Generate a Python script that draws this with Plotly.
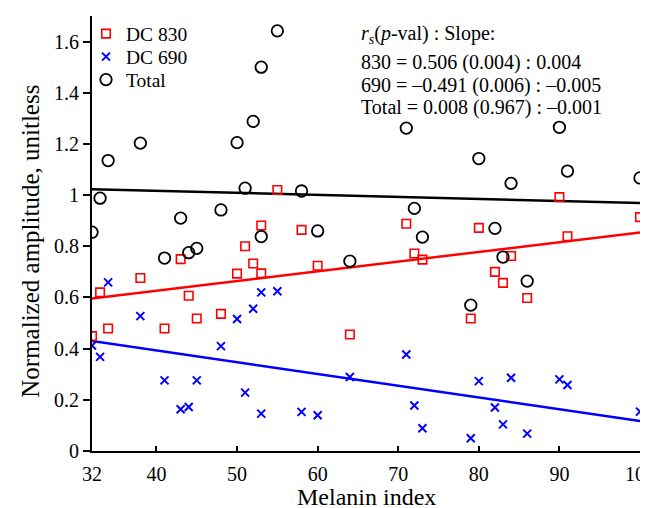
import numpy as np
import plotly.graph_objects as go

melanin = [32, 33, 34, 38, 41, 43, 44, 45, 48, 50, 51, 52, 53, 53, 55, 58, 60, 64,
           71, 72, 73, 79, 80, 82, 83, 84, 86, 90, 91, 100]
dc830 = [0.449, 0.620, 0.479, 0.676, 0.479, 0.750, 0.607, 0.518, 0.536, 0.693, 0.800, 0.733,
         0.881, 0.694, 1.020, 0.864, 0.724, 0.455, 0.888, 0.772, 0.748, 0.518, 0.872, 0.700,
         0.657, 0.762, 0.598, 0.992, 0.839, 0.914]
dc690 = [0.412, 0.368, 0.659, 0.527, 0.276, 0.163, 0.172, 0.276, 0.410, 0.516, 0.228, 0.556,
         0.620, 0.146, 0.624, 0.153, 0.140, 0.289, 0.377, 0.178, 0.089, 0.050, 0.273, 0.170,
         0.104, 0.286, 0.068, 0.280, 0.258, 0.154]
total = [0.855, 0.988, 1.135, 1.203, 0.754, 0.910, 0.775, 0.792, 0.942, 1.205, 1.027, 1.288,
         1.500, 0.838, 1.642, 1.016, 0.860, 0.742, 1.262, 0.948, 0.836, 0.570, 1.143, 0.870,
         0.758, 1.046, 0.664, 1.265, 1.094, 1.067]

x_ticks = [32, 40, 50, 60, 70, 80, 90, 100]
y_ticks = [0, 0.2, 0.4, 0.6, 0.8, 1, 1.2, 1.4, 1.6]
y_ticktext = ["0", "0.2", "0.4", "0.6", "0.8", "1", "1.2", "1.4", "1.6"]
stats_lines = ["<i>r</i><sub><i>s</i></sub>(<i>p</i>-val) : Slope:",
               "830 = 0.506 (0.004) : 0.004",
               "690 = \u20130.491 (0.006) : \u20130.005",
               "Total = 0.008 (0.967) : \u20130.001"]
x_title = "Melanin index"
y_title = "Normalized amplitude, unitless"

FONT = "Liberation Serif, Times New Roman, serif"
xfit = np.array([32, 100])

# plot-area geometry in pixels (for placing text only)
W, H = 648, 508
L, R, T, B = 84, 16, 7, 64.5
PH = H - T - B
PW = W - L - R


def py(p):
    return (H - B - p) / PH


def px(p):
    return (p - L) / PW


fig = go.Figure()
for name, vals, color in [("DC 830", dc830, "#ff0000"), ("DC 690", dc690, "#0000ff"), ("Total", total, "#000000")]:
    k, b = np.polyfit(melanin, vals, 1)
    fig.add_trace(go.Scatter(x=xfit, y=k * xfit + b, mode="lines", showlegend=False,
                             line=dict(color=color, width=2.5), hoverinfo="skip"))

fig.add_trace(go.Scatter(x=melanin, y=dc830, mode="markers", name="DC 830", legend="legend",
                         marker=dict(symbol="square-open", size=8.5, color="#ff0000",
                                     line=dict(width=1.6, color="#ff0000"))))
fig.add_trace(go.Scatter(x=melanin, y=dc690, mode="markers", name="DC 690", legend="legend2",
                         marker=dict(symbol="x-thin-open", size=8, color="#0000ff",
                                     line=dict(width=2, color="#0000ff"))))
fig.add_trace(go.Scatter(x=melanin, y=total, mode="markers", name="Total", legend="legend3",
                         marker=dict(symbol="circle-open", size=11.5, color="#000000",
                                     line=dict(width=1.8, color="#000000"))))

for line, ypix in zip(stats_lines, [26, 54, 76.5, 99]):
    fig.add_annotation(xref="paper", yref="paper", x=px(351), y=py(ypix), xanchor="left",
                       yanchor="middle", text=line, showarrow=False, align="left",
                       font=dict(family=FONT, size=20, color="black"))

# axis titles
fig.add_annotation(xref="paper", yref="paper", x=px(22.5), y=py(233), xanchor="center",
                   yanchor="middle", text=y_title, textangle=-90, showarrow=False,
                   font=dict(family=FONT, size=25, color="black"))
fig.add_annotation(xref="paper", yref="paper", x=px(358), y=py(489.5), xanchor="center",
                   yanchor="middle", text=x_title, showarrow=False,
                   font=dict(family=FONT, size=24, color="black"))

leg_common = dict(x=px(78), xanchor="left", yanchor="middle", bgcolor="rgba(0,0,0,0)",
                  font=dict(family=FONT, size=19.5, color="black"), itemwidth=30)

fig.update_layout(
    template="simple_white",
    width=W, height=H,
    margin=dict(l=L, r=R, t=T, b=B),
    paper_bgcolor="white", plot_bgcolor="white",
    font=dict(family=FONT, size=20, color="black"),
    showlegend=True,
    legend=dict(y=py(26), **leg_common),
    legend2=dict(y=py(49), **leg_common),
    legend3=dict(y=py(72), **leg_common),
    xaxis=dict(range=[32, 100], tickvals=x_ticks, ticktext=[str(v) for v in x_ticks],
               showline=True, linecolor="black", linewidth=2, ticks="inside", ticklen=5,
               tickwidth=2, tickcolor="black", showgrid=False, zeroline=False, automargin=False,
               ticklabelstandoff=4, mirror=False, tickfont=dict(size=20)),
    yaxis=dict(range=[0, 1.7], tickvals=y_ticks, ticktext=y_ticktext,
               showline=True, linecolor="black", linewidth=2, ticks="outside", ticklen=7,
               tickwidth=2, tickcolor="black", showgrid=False, zeroline=False, automargin=False,
               mirror=False, tickfont=dict(size=20)),
)

fig.write_html("out.html")
